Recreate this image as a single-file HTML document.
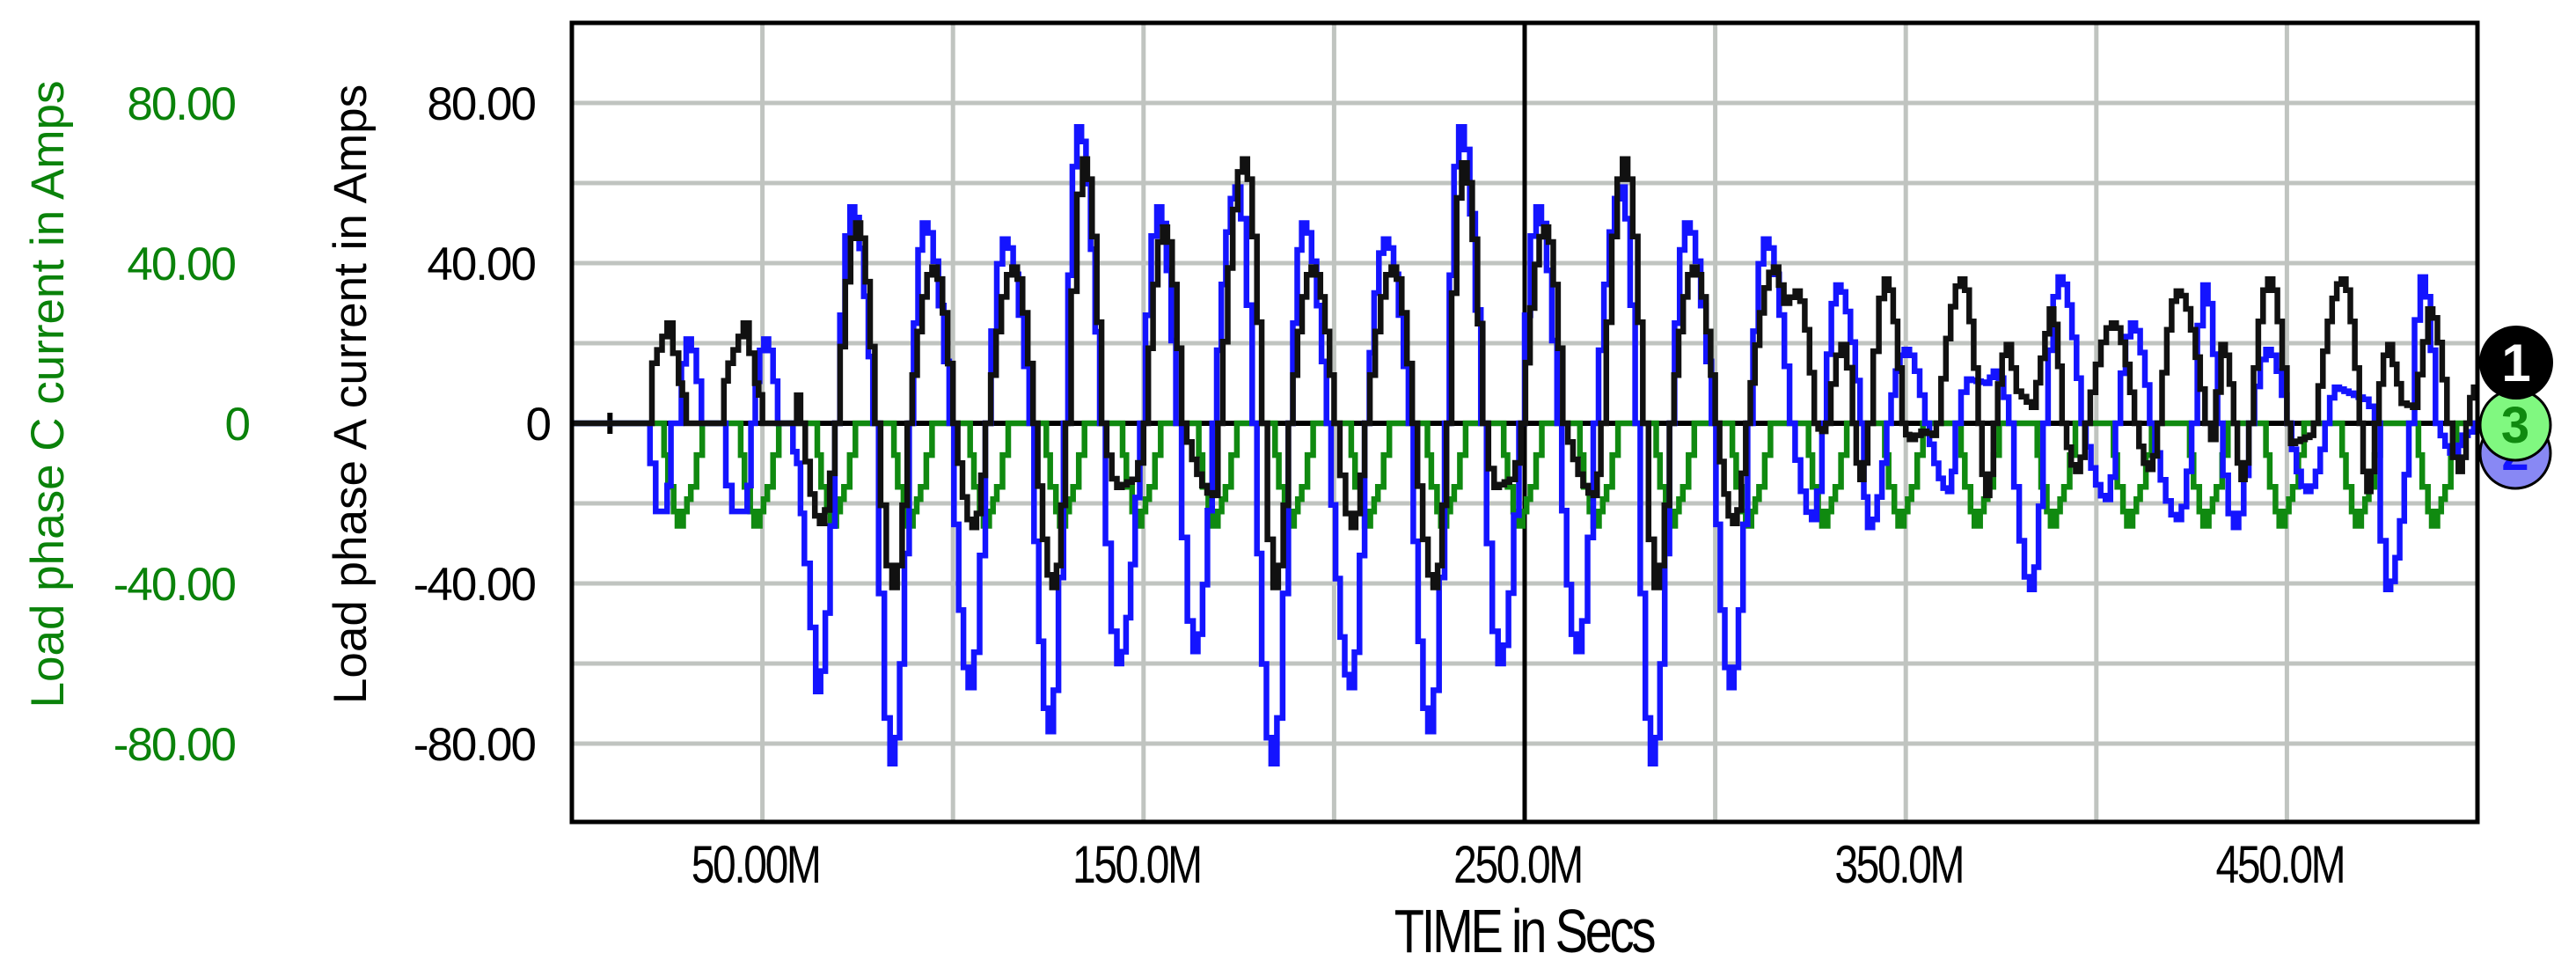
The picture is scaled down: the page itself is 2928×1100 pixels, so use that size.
<!DOCTYPE html>
<html><head><meta charset="utf-8"><style>
html,body{margin:0;padding:0;background:#fff;}
body{position:relative;width:2928px;height:1100px;overflow:hidden}
svg{display:block;font-family:"Liberation Sans",Arial,sans-serif;}
#chart,#overlay{position:absolute;left:0;top:0}
</style></head><body>
<svg id="chart" width="2928" height="1100" viewBox="0 0 2928 1100" xmlns="http://www.w3.org/2000/svg">
<g id="grid"></g>
<g id="series"></g>
<g id="axes"></g>
</svg>
<script>
// ---- data ----
const xTickValues = [50, 150, 250, 350, 450];
const xTickLabels = ["50.00M", "150.0M", "250.0M", "350.0M", "450.0M"];
const yTickValues = [80, 40, 0, -40, -80];
const yTickLabels = ["80.00", "40.00", "0", "-40.00", "-80.00"];
const yGridValues = [80, 60, 40, 20, -20, -40, -60, -80];
const xGridValues = [50, 100, 150, 200, 300, 350, 400, 450];

// Phase A (black) keypoints: time (M) and current
const blackT = [0,20,21,25,28,30,38.8,41,45,48,50,58.5,59,60,65,69,74.5,79.5,84,88,94.5,100,105,108.5,115.5,121,126,129.5,134,139,143,147,150,155,160,168,169.5,176,181,184,188,194,200,204.5,208,215,220.5,226,229.5,233.5,239,242,246,249,255,260,268,270,275.7,281,284,288,294,300,304.6,308,315.3,318,321,326,328,329,333,336,338,340,344.4,349,351,354,357,358,364.3,369,371,373,376.4,379,383,387.7,391,394.6,397,404,410,413.6,416,421,428.5,430,432.7,436,438,440,445,450,451,456,457,464.3,469,471,473,476.5,480,483,487,492,495,497,499,500];
const blackV = [0,0,15,25,10,0,0,15,25,10,0,0,7,0,-25,0,50,0,-41,0,39,0,-26,0,39,0,-41,0,66,0,-16,-14,0,49,0,-18,0,66,0,-41,0,39,0,-26,0,39,0,-41,0,65,0,-16,-14,0,49,0,-18,0,66,0,-41,0,39,0,-25,0,39,30,33,0,-2,0,19.6,0,-14,0,36,0,-4,-2,-3,0,36,0,-18,0,19.6,8,4,28.5,0,-12,0,25,0,-11.5,0,33,0,-4,19.6,0,-14,0,36,0,-5,-3,0,36,0,-17,0,19.6,5,4,28.5,0,-12,0,9,9];

// Phase B (blue) keypoints
const blueT = [0,19.7,20.5,22,24,26,27.5,30,34,38.8,42,45,47,50.4,54,57,59,61,64,69,73,79,83.5,88.5,92,99,104,108.5,113,120,125,129,132.5,138.5,143,149,153.5,158.5,163,168,174,178.5,183.5,188,191.5,198,204,208,213,219.5,224.6,229,232.7,238.5,243,248.5,253,258.5,263.5,268,275,279,283,288,292,299,303.7,308.5,312.7,319.5,325.3,328,331.7,338,340,345,349.6,355,361,363,366,371,373,377,382.5,386,390,396,402.4,405,409,414,421,425,428,431.8,436,440,444.5,450,455,460,462.5,465,470,473,476,482,485,489,494,496,499,500];
const blueV = [0,0,-10,-22,-22,0,0,21,0,0,-22,-22,0,21,0,0,-10,-35,-67,0,54,0,-85,0,50,0,-66,0,46,0,-77,0,74,0,-60,0,54,0,-57,0,59,0,-85,0,50,0,-66,0,46,0,-77,0,74,0,-60,0,54,0,-57,0,59,0,-85,0,50,0,-66,0,46,0,-24,0,34.5,0,-26,0,18.4,0,-17,0,11,10,13,0,-41.5,0,36.5,0,-19,0,25,0,-24,0,34.5,0,-26,0,18.4,0,-17,0,9,8,6,0,-41.5,0,36.5,0,-8,-3,0];

// Phase C (green) lobe trough times and minima
const greenTroughT = [27.7,47.8,67.9,88,108,128,148,168,188,208,228,248,268,288,308,328,348,368,388,408,428,448,468,488];
const greenTroughV = [-25.6,-25.6,-25.6,-25.6,-25.6,-25.6,-25.6,-25.6,-25.6,-25.6,-25.6,-25.6,-25.6,-25.6,-25.6,-25.6,-25.6,-25.6,-25.6,-25.6,-25.6,-25.6,-25.6,-25.6];

// ---- axes functions ----
const PL = 650, PR = 2816, PT = 26, PB = 934;
const X0 = 0, X1 = 500;
const Y0 = 481, YS = 4.55;
function xs(t){ return PL + (t - X0) / (X1 - X0) * (PR - PL); }
function ys(v){ return Y0 - v * YS; }

const NS = "http://www.w3.org/2000/svg";
function mk(tag, attrs, parent){
  const e = document.createElementNS(NS, tag);
  for (const k in attrs) e.setAttribute(k, attrs[k]);
  parent.appendChild(e);
  return e;
}
const grid = document.getElementById('grid');
const series = document.getElementById('series');
const axes = document.getElementById('axes');

yGridValues.forEach(v => {
  const l = mk('line', {x1: PL, x2: PR, y1: ys(v), y2: ys(v), stroke: '#c0c4c0', 'stroke-width': 5}, grid);
  
  
});
xGridValues.forEach(t => {
  const l = mk('line', {x1: xs(t), x2: xs(t), y1: PT, y2: PB, stroke: '#c0c4c0', 'stroke-width': 5}, grid);
  
  
});
const cur = mk('line', {x1: xs(250), x2: xs(250), y1: PT, y2: PB, stroke: '#000', 'stroke-width': 5}, grid);


const zl = mk('line', {x1: PL, x2: PR, y1: ys(0), y2: ys(0), stroke: '#000', 'stroke-width': 6}, grid);


const tk = mk('line', {x1: xs(10), x2: xs(10), y1: ys(0)-12, y2: ys(0)+12, stroke: '#000', 'stroke-width': 6}, grid);



// stepped renderer with sine-shaped humps between keypoints
function drawSteps(T, V, color, name, ease){
  const DT = 1.3;
  let pts = [[T[0], V[0]]];
  for (let i = 0; i < T.length - 1; i++){
    const t0 = T[i], t1 = T[i+1], v0 = V[i], v1 = V[i+1];
    const n = Math.max(1, Math.round((t1 - t0) / DT));
    for (let k = 1; k <= n; k++){
      const s = k / n;
      let v;
      if (ease && v0 === 0 && v1 !== 0) v = v1 * Math.sin(Math.PI / 2 * s);
      else if (ease && v1 === 0 && v0 !== 0) v = v0 * Math.cos(Math.PI / 2 * s);
      else v = v0 + (v1 - v0) * s;
      pts.push([t0 + (t1 - t0) * s, v]);
    }
  }
  let d = 'M' + xs(pts[0][0]).toFixed(1) + ' ' + ys(pts[0][1]).toFixed(1);
  for (let i = 1; i < pts.length; i++){
    d += ' H' + xs(pts[i][0]).toFixed(1) + ' V' + ys(pts[i][1]).toFixed(1);
  }
  const p = mk('path', {d: d, fill: 'none', stroke: color, 'stroke-width': 6.5, 'stroke-linejoin': 'miter'}, series);
  
  
}
(function(){
  const offs = [-4,-3.5,-2.5,-1,0,1.5,3.5,5,6.5];
  const fr = [0,0.31,0.62,0.86,1,0.86,0.62,0.31,0];
  const T = [0], V = [0];
  greenTroughT.forEach((t, i) => {
    offs.forEach((o, j) => { T.push(t + o); V.push(greenTroughV[i] * fr[j]); });
  });
  T.push(500); V.push(0);
  drawSteps(T, V, '#108a10', 'phase-c-line', false);
})();
drawSteps(blueT, blueV, '#1414ff', 'phase-b-line', true);
drawSteps(blackT, blackV, '#111', 'phase-a-line', true);

const fr = mk('rect', {x: PL, y: PT, width: PR-PL, height: PB-PT, fill: 'none', stroke: '#000', 'stroke-width': 5}, axes);



xTickValues.forEach((t, i) => {
  const tx = mk('text', {x: 0, y: 0, 'font-size': 60, 'text-anchor': 'middle', fill: '#000',
    transform: 'translate(' + (xs(t) - 8) + ',1003) scale(0.8,1)', 'letter-spacing': '-3'}, axes);
  tx.textContent = xTickLabels[i];
  
  
});
yTickValues.forEach((v, i) => {
  const lab = yTickLabels[i];
  const t1 = mk('text', {x: lab === '0' ? 625 : 608, y: ys(v) + 19, 'font-size': 53, 'text-anchor': 'end', fill: '#000', 'letter-spacing': '-2'}, axes);
  t1.textContent = lab;
  
  
  const t2 = mk('text', {x: lab === '0' ? 283 : 267, y: ys(v) + 19, 'font-size': 53, 'text-anchor': 'end', fill: '#0a820a', 'letter-spacing': '-2'}, axes);
  t2.textContent = lab;
  
  
});
</script>
<svg id="overlay" width="2928" height="1100">
<text transform="translate(1732,1082) scale(0.8,1)" text-anchor="middle" font-family="Liberation Sans, sans-serif" font-size="70" letter-spacing="-4">TIME in Secs</text>
<text transform="translate(416,448) rotate(-90)" text-anchor="middle" font-family="Liberation Sans, sans-serif" font-size="53" fill="#000">Load phase A current in Amps</text>
<text transform="translate(72,448) rotate(-90)" text-anchor="middle" font-family="Liberation Sans, sans-serif" font-size="53" fill="#0a820a">Load phase C current in Amps</text>
<g>
<circle cx="2859" cy="515" r="40" fill="#8888f4" stroke="#000" stroke-width="3"/>
<text x="2859" y="534" text-anchor="middle" font-family="Liberation Sans, sans-serif" font-weight="bold" font-size="56" fill="#1414ff">2</text>
</g>
<g>
<circle cx="2859" cy="483" r="40" fill="#80f880" stroke="#000" stroke-width="3"/>
<text x="2859" y="503" text-anchor="middle" font-family="Liberation Sans, sans-serif" font-weight="bold" font-size="58" fill="#108a10">3</text>
</g>
<g>
<circle cx="2860" cy="412" r="42" fill="#000"/>
<text x="2860" y="433" text-anchor="middle" font-family="Liberation Sans, sans-serif" font-weight="bold" font-size="60" fill="#fff">1</text>
</g>
</svg>
</body></html>
